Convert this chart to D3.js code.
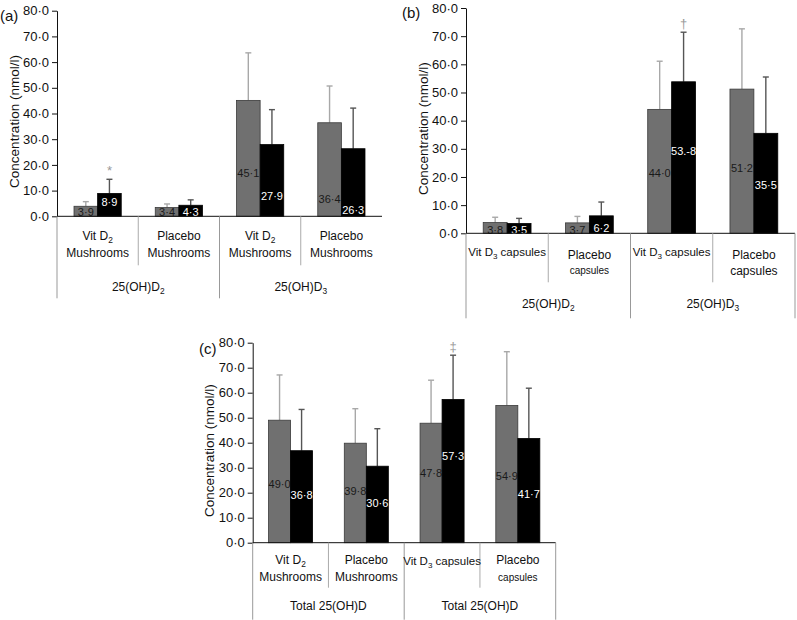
<!DOCTYPE html>
<html><head><meta charset="utf-8">
<script src="https://cdn.jsdelivr.net/npm/d3@7"></script>
<style>
body{margin:0;background:#fff}
svg{display:block;font-family:"Liberation Sans",Arial,Helvetica,sans-serif}
</style>
</head><body><svg id="chart" width="797" height="620"></svg>
<script>
// ---------------- data ----------------
const yTicks = [0, 10, 20, 30, 40, 50, 60, 70, 80];
const seriesKeys = ["grey", "black"];

// panel (a)
const categoriesA = ["Vit D_2\nMushrooms", "Placebo\nMushrooms", "Vit D_2\nMushrooms", "Placebo\nMushrooms"];
const groupsA = ["25(OH)D_2", "25(OH)D_3"];
const greyMeanA = [3.9, 3.4, 45.1, 36.4];
const greySdA = [1.8, 1.4, 18.5, 14.3];
const blackMeanA = [8.9, 4.3, 27.9, 26.3];
const blackSdA = [5.5, 2.1, 13.6, 15.8];
const greyTextA = ["3·9", "3·4", "45·1", "36·4"];
const blackTextA = ["8·9", "4·3", "27·9", "26·3"];
const marksA = ["*", "", "", ""];

// panel (b)
const categoriesB = ["Vit D_3 capsules", "Placebo\ncapsules", "Vit D_3 capsules", "Placebo\ncapsules"];
const groupsB = ["25(OH)D_2", "25(OH)D_3"];
const greyMeanB = [3.8, 3.7, 44.0, 51.2];
const greySdB = [1.9, 2.3, 17.1, 21.4];
const blackMeanB = [3.5, 6.2, 53.8, 35.5];
const blackSdB = [1.8, 4.9, 17.6, 20.0];
const greyTextB = ["3·8", "3·7", "44·0", "51·2"];
const blackTextB = ["3·5", "6·2", "53.-8", "35·5"];
const marksB = ["", "", "†", ""];

// panel (c)
const categoriesC = ["Vit D_2\nMushrooms", "Placebo\nMushrooms", "Vit D_3 capsules", "Placebo\ncapsules"];
const groupsC = ["Total 25(OH)D", "Total 25(OH)D"];
const greyMeanC = [49.0, 39.8, 47.8, 54.9];
const greySdC = [18.1, 13.8, 17.2, 21.5];
const blackMeanC = [36.8, 30.6, 57.3, 41.7];
const blackSdC = [16.5, 15.0, 17.7, 20.1];
const greyTextC = ["49·0", "39·8", "47·8", "54·9"];
const blackTextC = ["36·8", "30·6", "57·3", "41·7"];
const marksC = ["", "", "‡", ""];

// ---------------- layout / style ----------------
// where the in-bar value labels sit (in data units)
const greyLabelAtA = [1.6, 1.5, 16.8, 6.7], blackLabelAtA = [5.5, 1.5, 8.0, 2.4];
const greyLabelAtB = [1.2, 1.2, 21.5, 23.3], blackLabelAtB = [1.2, 2.0, 29.0, 17.0];
const greyLabelAtC = [23.3, 20.8, 28.0, 26.8], blackLabelAtC = [19.2, 15.9, 34.7, 19.4];

const panels = [
  {tag: "(a)", cats: categoriesA, groups: groupsA, gm: greyMeanA, gs: greySdA, bm: blackMeanA, bs: blackSdA,
   gt: greyTextA, bt: blackTextA, marks: marksA, gla: greyLabelAtA, bla: blackLabelAtA,
   left: 57, right: 382, top: 10.7, base: 216.3, rightLine: false,
   line1: 19, line2: 36, single: 20, groupDy: 70, shortLen: 49, longLen: 82,
   smallSecond: [false, false, false, false], tagX: 0, tagY: 16},
  {tag: "(b)", cats: categoriesB, groups: groupsB, gm: greyMeanB, gs: greySdB, bm: blackMeanB, bs: blackSdB,
   gt: greyTextB, bt: blackTextB, marks: marksB, gla: greyLabelAtB, bla: blackLabelAtB,
   left: 466, right: 795, top: 8, base: 233.3, rightLine: true,
   line1: 21, line2: 37, single: 19, groupDy: 70, shortLen: 49, longLen: 85,
   smallSecond: [false, true, false, false], tagX: 402, tagY: 13},
  {tag: "(c)", cats: categoriesC, groups: groupsC, gm: greyMeanC, gs: greySdC, bm: blackMeanC, bs: blackSdC,
   gt: greyTextC, bt: blackTextC, marks: marksC, gla: greyLabelAtC, bla: blackLabelAtC,
   left: 252.7, right: 555.7, top: 342.7, base: 542.7, rightLine: true,
   line1: 17.5, line2: 34.5, single: 18.5, groupDy: 63, shortLen: 45, longLen: 77,
   smallSecond: [false, false, false, true], tagX: 199, tagY: 349}
];

const svg = d3.select("#chart");
const fmtTick = d => d3.format(".1f")(d).replace(".", "·");

function richText(sel, str, size) {
  // supports "_2" style subscripts
  const parts = str.split(/_(\d)/);
  const shift = size * 0.25;
  let pending = 0;
  parts.forEach((p, i) => {
    if (p === "") return;
    if (i % 2 === 1) {
      sel.append("tspan").attr("font-size", size * 0.7).attr("dy", shift).text(p);
      pending = -shift;
    } else {
      const t = sel.append("tspan").text(p);
      if (pending) { t.attr("dy", pending); pending = 0; }
    }
  });
}

panels.forEach(P => {
  const g = svg.append("g");
  const x = d3.scaleBand().domain(d3.range(P.cats.length)).range([P.left, P.right]).padding(0);
  const xs = d3.scaleBand().domain(seriesKeys).range([0, x.bandwidth()]).paddingInner(0).paddingOuter(0.72);
  const y = d3.scaleLinear().domain([0, 80]).range([P.base, P.top]);

  // y axis
  const ax = g.append("g").attr("transform", `translate(${P.left},0)`)
    .call(d3.axisLeft(y).tickValues(yTicks).tickSize(5).tickSizeOuter(0).tickPadding(3).tickFormat(fmtTick));
  ax.selectAll("text").attr("font-size", 13).attr("font-family", "Liberation Sans, Arial, sans-serif").attr("fill", "#111");
  ax.select(".domain").attr("stroke", "#111");
  ax.selectAll(".tick line").attr("stroke", "#111");

  // y title
  g.append("text")
    .attr("transform", `translate(${P.left - 43},${(P.top + P.base) / 2 + 8}) rotate(-90)`)
    .attr("text-anchor", "middle").attr("dy", "0.35em").attr("font-size", 13.5).attr("fill", "#111")
    .text("Concentration (nmol/l)");

  // panel tag
  g.append("text").attr("x", P.tagX).attr("y", P.tagY).attr("dy", "0.35em")
    .attr("font-size", 15).attr("fill", "#111").text(P.tag);

  // bars
  const rows = P.cats.map((c, i) => ({i, c}));
  const series = [
    {key: "grey", m: P.gm, s: P.gs, t: P.gt, la: P.gla, fill: "#707070", stroke: "#3a3a3a", err: "#a8a8a8", txt: "#1a1a1a"},
    {key: "black", m: P.bm, s: P.bs, t: P.bt, la: P.bla, fill: "#000", stroke: "#000", err: "#555", txt: "#fff"}
  ];
  series.forEach(S => {
    const cx = i => x(i) + xs(S.key) + xs.bandwidth() / 2;
    // error bars
    g.selectAll(null).data(rows).enter().append("line")
      .attr("x1", d => cx(d.i)).attr("x2", d => cx(d.i))
      .attr("y1", d => y(S.m[d.i])).attr("y2", d => y(S.m[d.i] + S.s[d.i]))
      .attr("stroke", S.err).attr("stroke-width", 1.4);
    g.selectAll(null).data(rows).enter().append("line")
      .attr("x1", d => cx(d.i) - 3).attr("x2", d => cx(d.i) + 3)
      .attr("y1", d => y(S.m[d.i] + S.s[d.i])).attr("y2", d => y(S.m[d.i] + S.s[d.i]))
      .attr("stroke", S.err).attr("stroke-width", 1.4);
    // bars
    g.selectAll(null).data(rows).enter().append("rect")
      .attr("x", d => x(d.i) + xs(S.key)).attr("width", xs.bandwidth())
      .attr("y", d => y(S.m[d.i])).attr("height", d => y(0) - y(S.m[d.i]))
      .attr("fill", S.fill).attr("stroke", S.stroke).attr("stroke-width", 0.8);
    // value labels
    g.selectAll(null).data(rows).enter().append("text")
      .attr("x", d => cx(d.i)).attr("y", d => y(S.la[d.i])).attr("dy", "0.35em")
      .attr("text-anchor", "middle").attr("font-size", 11).attr("fill", S.txt)
      .text(d => S.t[d.i]);
  });

  // significance marks (on black bars)
  g.selectAll(null).data(rows.filter(d => P.marks[d.i])).enter().append("text")
    .attr("x", d => x(d.i) + xs("black") + xs.bandwidth() / 2)
    .attr("y", d => y(P.bm[d.i] + P.bs[d.i]) - 9).attr("dy", "0.35em")
    .attr("text-anchor", "middle").attr("font-size", 13).attr("fill", "#999")
    .text(d => P.marks[d.i]);

  // baseline
  g.append("line").attr("x1", P.left).attr("x2", P.right).attr("y1", y(0)).attr("y2", y(0))
    .attr("stroke", "#111").attr("stroke-width", 1);

  // lines below baseline
  const longX = [x(0), x(2)];
  if (P.rightLine) longX.push(x(3) + x.bandwidth());
  longX.forEach(lx => g.append("line").attr("x1", lx).attr("x2", lx)
    .attr("y1", y(0)).attr("y2", y(0) + P.longLen).attr("stroke", "#999").attr("stroke-width", 1));
  [x(1), x(3)].forEach(lx => g.append("line").attr("x1", lx).attr("x2", lx)
    .attr("y1", y(0)).attr("y2", y(0) + P.shortLen).attr("stroke", "#aaa").attr("stroke-width", 1));

  // category labels
  rows.forEach(d => {
    const lines = d.c.split("\n");
    const cxm = x(d.i) + x.bandwidth() / 2;
    lines.forEach((ln, k) => {
      const small = k === 1 && P.smallSecond[d.i];
      const sz = small ? 10 : (lines.length === 1 ? 11.5 : 12);
      const yy = lines.length === 1 ? P.single : (k === 0 ? P.line1 : P.line2);
      const t = g.append("text").attr("x", cxm).attr("y", y(0) + yy).attr("dy", "0.35em")
        .attr("text-anchor", "middle").attr("font-size", sz).attr("fill", "#111");
      richText(t, ln, sz);
    });
  });

  // group labels
  P.groups.forEach((gl, k) => {
    const gx = (x(2 * k) + x(2 * k + 1) + x.bandwidth()) / 2;
    const t = g.append("text").attr("x", gx).attr("y", y(0) + P.groupDy).attr("dy", "0.35em")
      .attr("text-anchor", "middle").attr("font-size", 12).attr("fill", "#111");
    richText(t, gl, 12);
  });
});
</script>
</body></html>
